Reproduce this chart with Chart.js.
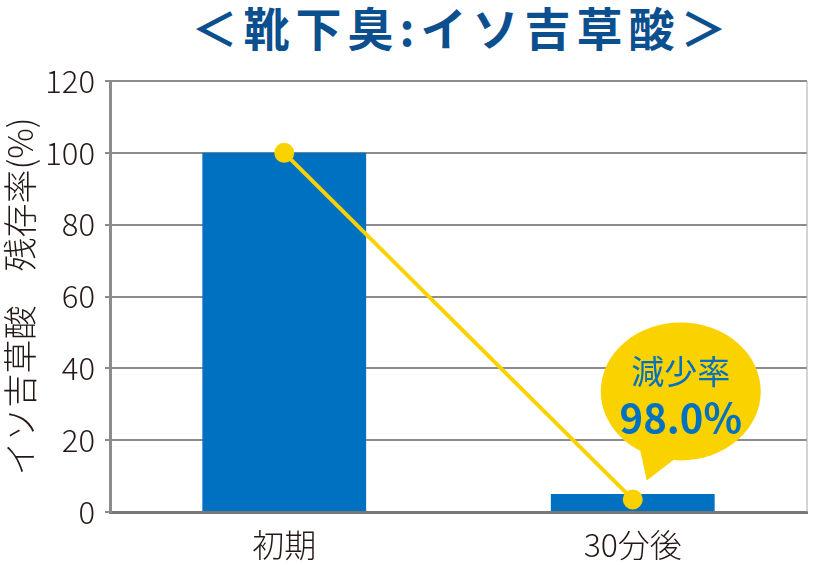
<!DOCTYPE html>
<html>
<head>
<meta charset="utf-8">
<script src="https://cdn.jsdelivr.net/npm/chart.js@4/dist/chart.umd.min.js"></script>
<style>
  body { margin: 0; background: #fff; }
  #wrap { position: relative; width: 819px; height: 565px; }
  #title {
    position: absolute; left: 110px; width: 704px; top: -2px;
    text-align: center; font: bold 46px "Noto Sans CJK JP", sans-serif;
    letter-spacing: 6px; color: #0b4f8f; line-height: 56px;
  }
  canvas { position: absolute; left: 0; top: 0; }
</style>
</head>
<body>
<div id="wrap">
  <div id="title">＜靴下臭:イソ吉草酸＞</div>
  <canvas id="chart" width="819" height="565"></canvas>
</div>
<script>
const categories = ["初期", "30分後"];
const barValues = [100, 5];
const lineValues = [100, 3.5];
const yTicks = [0, 20, 40, 60, 80, 100, 120];
const bubbleLines = ["減少率", "98.0%"];

const BLUE = "#0071c1";
const YELLOW = "#fad200";
const FONT = "'Noto Sans CJK JP', 'Noto Sans', sans-serif";

// speech bubble anchored to the last line point + right border
const bubblePlugin = {
  id: "bubble",
  afterDatasetsDraw(chart) {
    const ctx = chart.ctx;
    const area = chart.chartArea;
    ctx.save();
    ctx.strokeStyle = "#aaa";
    ctx.lineWidth = 1;
    ctx.beginPath();
    ctx.moveTo(area.right, area.top);
    ctx.lineTo(area.right, area.bottom);
    ctx.stroke();

    const pt = chart.getDatasetMeta(1).data[1];
    const cx = pt.x + 48, cy = pt.y - 108;
    ctx.fillStyle = YELLOW;
    ctx.beginPath();
    ctx.ellipse(cx, cy, 80, 69, 0, 0, Math.PI * 2);
    ctx.fill();
    ctx.beginPath();
    ctx.moveTo(cx - 42, cy + 52);
    ctx.lineTo(pt.x + 14, pt.y - 19);
    ctx.lineTo(cx - 4, cy + 66);
    ctx.closePath();
    ctx.fill();

    ctx.fillStyle = BLUE;
    ctx.textAlign = "center";
    ctx.textBaseline = "middle";
    ctx.font = "400 33px " + FONT;
    ctx.fillText(bubbleLines[0], cx, cy - 20);
    ctx.font = "bold 40px " + FONT;
    ctx.fillText(bubbleLines[1], cx, cy + 26);
    ctx.restore();
  }
};

new Chart(document.getElementById("chart"), {
  data: {
    labels: categories,
    datasets: [
      {
        type: "bar",
        data: barValues,
        backgroundColor: BLUE,
        barPercentage: 0.94,
        categoryPercentage: 0.5,
        order: 2,
      },
      {
        type: "line",
        data: lineValues,
        borderColor: YELLOW,
        backgroundColor: YELLOW,
        borderWidth: 4,
        pointRadius: 8,
        pointHoverRadius: 8,
        order: 1,
      },
    ],
  },
  options: {
    responsive: false,
    animation: false,
    layout: { padding: { top: 81, right: 5, left: 0, bottom: 0 } },
    scales: {
      x: {
        grid: { display: false },
        border: { color: "#777", width: 3 },
        ticks: { color: "#231815", font: { family: FONT, size: 32, weight: 300 }, padding: 6 },
        afterFit(scale) { scale.height = 53; },
      },
      y: {
        min: 0,
        max: 120,
        afterBuildTicks(scale) { scale.ticks = yTicks.map(v => ({ value: v })); },
        grid: { color: "#8c8c8c", lineWidth: 2, tickLength: 5 },
        border: { color: "#8c8c8c", width: 3 },
        ticks: { color: "#231815", font: { family: FONT, size: 31, weight: 300 }, padding: 10 },
        title: {
          display: true,
          text: "イソ吉草酸　残存率(%)",
          color: "#231815",
          font: { family: FONT, size: 34, weight: 300 },
          padding: { top: 0, bottom: 2 },
        },
        afterFit(scale) { scale.width = 110; },
      },
    },
    plugins: {
      legend: { display: false },
      tooltip: { enabled: false },
    },
  },
  plugins: [bubblePlugin],
});
</script>
</body>
</html>
